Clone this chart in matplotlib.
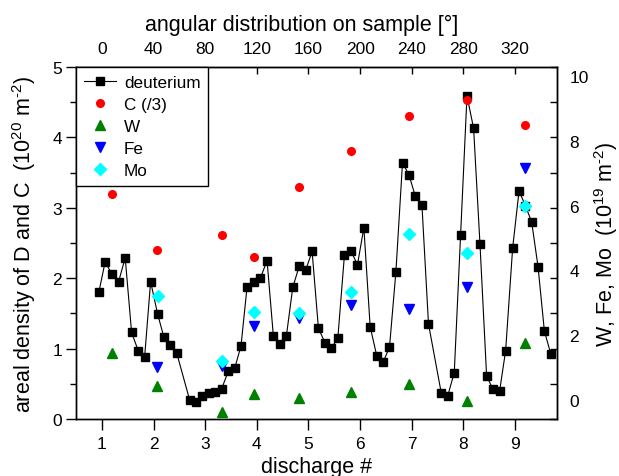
import matplotlib
matplotlib.use('Agg')
import matplotlib.pyplot as plt
from matplotlib.ticker import MultipleLocator, FixedLocator

plt.rcParams['font.family'] = ['Liberation Sans', 'DejaVu Sans']
plt.rcParams['mathtext.fontset'] = 'custom'
plt.rcParams['mathtext.rm'] = 'Liberation Sans'
plt.rcParams['mathtext.it'] = 'Liberation Sans'

# deuterium profile along the samples (left axis, 1e20 m^-2)
d_x = [0.942, 1.063, 1.194, 1.324, 1.452, 1.576, 1.704, 1.828,
       1.944, 2.080, 2.202, 2.324, 2.448,
       2.700, 2.822, 2.944, 3.068, 3.196, 3.320, 3.448, 3.572,
       3.694, 3.810, 3.946, 4.068, 4.198, 4.320, 4.444, 4.572,
       4.696, 4.824, 4.948, 5.070, 5.192, 5.322, 5.444, 5.568,
       5.696, 5.820, 5.948, 6.072, 6.194, 6.324, 6.446, 6.568,
       6.692, 6.820, 6.944, 7.066, 7.196, 7.323,
       7.570, 7.692, 7.822, 7.944, 8.068, 8.196, 8.320, 8.448,
       8.572, 8.700, 8.816, 8.952, 9.076, 9.198, 9.320, 9.444,
       9.566, 9.688]
d_y = [1.80, 2.23, 2.06, 1.95, 2.29, 1.23, 0.97, 0.88,
       1.95, 1.49, 1.16, 1.05, 0.94,
       0.27, 0.24, 0.32, 0.37, 0.38, 0.43, 0.68, 0.72,
       1.04, 1.87, 1.94, 2.00, 2.25, 1.18, 1.06, 1.18,
       1.87, 2.18, 2.12, 2.38, 1.29, 1.08, 1.01, 1.15,
       2.33, 2.39, 2.19, 2.72, 1.31, 0.89, 0.81, 1.02,
       2.09, 3.64, 3.47, 3.17, 3.04, 1.35,
       0.37, 0.32, 0.66, 2.61, 4.59, 4.13, 2.48, 0.61,
       0.42, 0.40, 0.97, 2.43, 3.24, 3.03, 2.80, 2.16,
       1.25, 0.93]

# carbon (divided by 3), left axis
c_x = [1.194, 2.072, 3.320, 3.946, 4.824, 5.820, 6.950, 8.068, 9.190]
c_y = [3.19, 2.40, 2.61, 2.30, 3.30, 3.80, 4.30, 4.53, 4.18]

# metals, right axis (1e19 m^-2)
w_x = [1.194, 2.072, 3.320, 3.946, 4.824, 5.820, 6.950, 8.068, 9.190]
w_y = [1.45, 0.42, -0.38, 0.19, 0.07, 0.26, 0.49, -0.02, 1.76]
fe_x = [2.072, 3.320, 3.946, 4.824, 5.820, 6.950, 8.068, 9.190]
fe_y = [1.01, 1.04, 2.29, 2.52, 2.94, 2.81, 3.48, 7.15]
mo_x = [2.080, 3.320, 3.946, 4.824, 5.820, 6.950, 8.068, 9.190]
mo_y = [3.22, 1.19, 2.73, 2.69, 3.35, 5.13, 4.53, 5.99]

discharges = [1, 2, 3, 4, 5, 6, 7, 8, 9]
angles = ['0', '40', '80', '120', '160', '200', '240', '280', '320']

fig = plt.figure(figsize=(6.19, 4.77), dpi=100)
ax = fig.add_axes([0.1228, 0.1195, 0.777, 0.7379])
ax2 = ax.twinx()

line_d, = ax.plot(d_x, d_y, '-s', color='black', lw=0.8, ms=5.2,
                  mec='black', label='deuterium')
pts_c, = ax.plot(c_x, c_y, 'o', color='red', ms=5.5, ls='none', label='C (/3)')
pts_w, = ax2.plot(w_x, w_y, '^', color='green', ms=6.5, ls='none', label='W')
pts_fe, = ax2.plot(fe_x, fe_y, 'v', color='blue', ms=6.5, ls='none', label='Fe')
pts_mo, = ax2.plot(mo_x, mo_y, 'D', color='cyan', ms=6, ls='none', label='Mo')

ax.set_xlim(0.5, 9.81)
ax.set_ylim(0, 5)
ax2.set_ylim(-0.586, 10.28)

# bottom / left axes
ax.set_xticks(discharges)
ax.yaxis.set_major_locator(MultipleLocator(1))
ax.yaxis.set_minor_locator(MultipleLocator(0.5))
ax.tick_params(axis='x', direction='out', length=8, width=1, labelsize=12.5, pad=4)
ax.tick_params(axis='y', which='major', direction='out', length=7, width=1,
               labelsize=12.5, pad=3)
ax.tick_params(axis='y', which='minor', direction='out', length=4, width=1)
ax.set_xlabel('discharge #', fontsize=15.5, labelpad=4)
ax.set_ylabel(r'areal density of D and C  (10$^{20}$ m$^{\text{-2}}$)',
              fontsize=15.5, labelpad=10)

# right axis labels (ticks themselves are the mirrored left ones)
ax2.yaxis.set_major_locator(FixedLocator([0, 2, 4, 6, 8, 10]))
ax2.tick_params(axis='y', length=0, labelsize=12.5, pad=9)
ax2.set_ylabel(r'W, Fe, Mo  (10$^{19}$ m$^{\text{-2}}$)', fontsize=15.5,
               labelpad=2)

# mirrored ticks on the right side
mirr = ax.secondary_yaxis('right')
mirr.yaxis.set_major_locator(MultipleLocator(1))
mirr.yaxis.set_minor_locator(MultipleLocator(0.5))
mirr.tick_params(which='both', direction='in', length=5, width=1, labelright=False)

# top axis: angle labels
top = ax.secondary_xaxis('top')
top.set_xticks(discharges, labels=angles)
top.tick_params(direction='in', length=5, width=1, labelsize=12.5, pad=8)
top.set_xlabel('angular distribution on sample [°]', fontsize=15.5, labelpad=8)
top.xaxis.label.set_x(0.47)

for a in (ax, ax2):
    for s in a.spines.values():
        s.set_linewidth(1.0)

leg = ax2.legend(handles=[line_d, pts_c, pts_w, pts_fe, pts_mo], loc='upper left',
                 fontsize=12.3, borderaxespad=0, fancybox=False, framealpha=1,
                 edgecolor='black', handlelength=1.9, handletextpad=0.45,
                 labelspacing=0.42, borderpad=0.45)
leg.get_frame().set_linewidth(1.0)

fig.savefig('out.png', dpi=100)
